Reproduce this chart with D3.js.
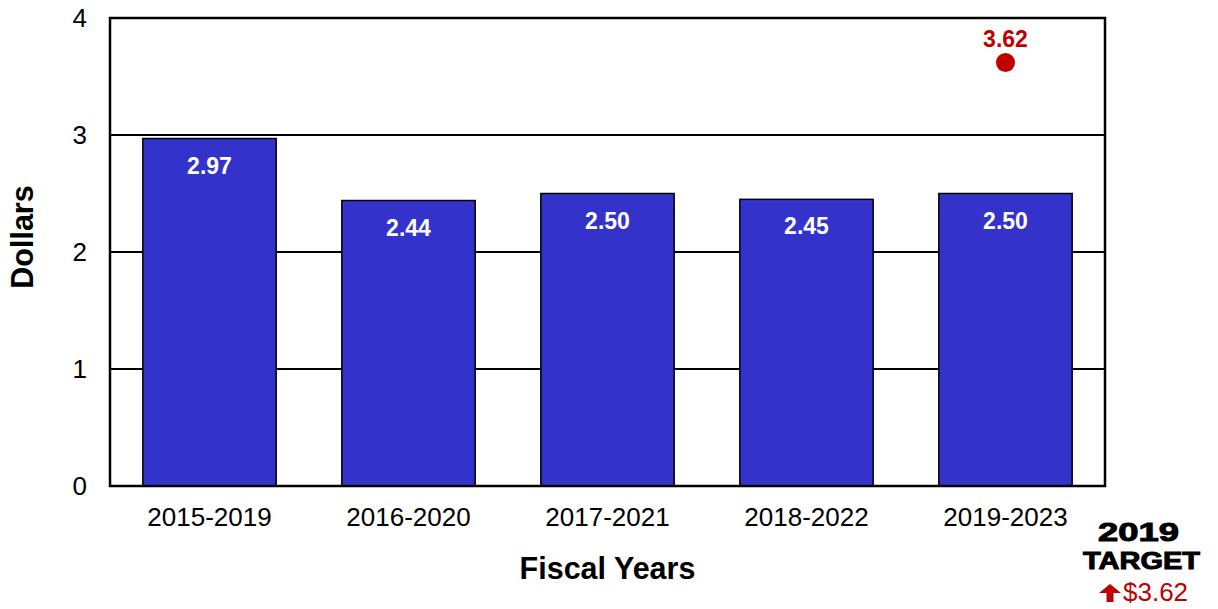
<!DOCTYPE html>
<html>
<head>
<meta charset="utf-8">
<script src="https://cdn.jsdelivr.net/npm/d3@7"></script>
<style>
  html, body { margin: 0; padding: 0; background: #fff; }
  svg { display: block; font-family: Arial, "Liberation Sans", sans-serif; }
</style>
</head>
<body>
<svg id="chart" width="1218" height="609"></svg>
<script>
// Fiscal-year windows and their dollar values
const categories = ["2015-2019", "2016-2020", "2017-2021", "2018-2022", "2019-2023"];
const values = [2.97, 2.44, 2.50, 2.45, 2.50];
const targetCategory = "2019-2023";
const targetValue = 3.62;
const yTicks = [0, 1, 2, 3, 4];

const svg = d3.select("#chart");
const plot = { left: 110, right: 1105, top: 18, bottom: 486 };

const x = d3.scaleBand()
  .domain(categories)
  .range([plot.left, plot.right])
  .paddingInner(0.33)
  .paddingOuter(0.165);

const y = d3.scaleLinear()
  .domain([0, 4])
  .range([plot.bottom, plot.top]);

// Horizontal gridlines
svg.append("g")
  .selectAll("line")
  .data(yTicks)
  .join("line")
  .attr("x1", plot.left)
  .attr("x2", plot.right)
  .attr("y1", d => y(d))
  .attr("y2", d => y(d))
  .attr("stroke", "#000")
  .attr("stroke-width", 2);

// Y axis tick labels
svg.append("g")
  .selectAll("text")
  .data(yTicks)
  .join("text")
  .attr("x", 87)
  .attr("y", d => y(d) + 9)
  .attr("text-anchor", "end")
  .attr("font-size", 26)
  .attr("fill", "#000")
  .text(d => d);

// Bars
svg.append("g")
  .selectAll("rect")
  .data(values)
  .join("rect")
  .attr("x", (d, i) => x(categories[i]))
  .attr("y", d => y(d))
  .attr("width", x.bandwidth())
  .attr("height", d => y(0) - y(d))
  .attr("fill", "#3333CC")
  .attr("stroke", "#000")
  .attr("stroke-width", 1.5);

// Value labels inside the bars
svg.append("g")
  .selectAll("text")
  .data(values)
  .join("text")
  .attr("x", (d, i) => x(categories[i]) + x.bandwidth() / 2)
  .attr("y", d => y(d) + 35)
  .attr("text-anchor", "middle")
  .attr("font-size", 23)
  .attr("font-weight", "bold")
  .attr("fill", "#fff")
  .text(d => d.toFixed(2));

// Plot frame
svg.append("rect")
  .attr("x", plot.left)
  .attr("y", plot.top)
  .attr("width", plot.right - plot.left)
  .attr("height", plot.bottom - plot.top)
  .attr("fill", "none")
  .attr("stroke", "#000")
  .attr("stroke-width", 2.5);

// Target marker
const tx = x(targetCategory) + x.bandwidth() / 2;
svg.append("circle")
  .attr("cx", tx)
  .attr("cy", y(targetValue))
  .attr("r", 9.5)
  .attr("fill", "#C00000");

svg.append("text")
  .attr("x", tx)
  .attr("y", y(targetValue) - 15)
  .attr("text-anchor", "middle")
  .attr("font-size", 23)
  .attr("font-weight", "bold")
  .attr("fill", "#C00000")
  .text(targetValue.toFixed(2));

// X axis category labels
svg.append("g")
  .selectAll("text")
  .data(categories)
  .join("text")
  .attr("x", d => x(d) + x.bandwidth() / 2)
  .attr("y", 526)
  .attr("text-anchor", "middle")
  .attr("font-size", 26)
  .attr("fill", "#000")
  .text(d => d);

// Axis titles
svg.append("text")
  .attr("x", (plot.left + plot.right) / 2)
  .attr("y", 579)
  .attr("text-anchor", "middle")
  .attr("font-size", 30.5)
  .attr("font-weight", "bold")
  .text("Fiscal Years");

svg.append("text")
  .attr("transform", "translate(33,237) rotate(-90)")
  .attr("text-anchor", "middle")
  .attr("font-size", 30.5)
  .attr("font-weight", "bold")
  .text("Dollars");

// Target note in the corner (heavy, widened lettering)
const note = svg.append("g");
note.append("text")
  .attr("x", 1098)
  .attr("y", 541)
  .attr("font-size", 26.5)
  .attr("font-weight", "bold")
  .attr("stroke", "#000")
  .attr("stroke-width", 1)
  .attr("textLength", 81)
  .attr("lengthAdjust", "spacingAndGlyphs")
  .text("2019");
note.append("text")
  .attr("x", 1083)
  .attr("y", 569)
  .attr("font-size", 24.5)
  .attr("font-weight", "bold")
  .attr("stroke", "#000")
  .attr("stroke-width", 1)
  .attr("textLength", 117)
  .attr("lengthAdjust", "spacingAndGlyphs")
  .text("TARGET");
note.append("path")
  .attr("d", "M1110,584 L1121,593 L1113.5,593 L1113.5,602 L1106.5,602 L1106.5,593 L1099,593 Z")
  .attr("fill", "#C00000");
note.append("text")
  .attr("x", 1123)
  .attr("y", 601)
  .attr("font-size", 26)
  .attr("fill", "#C00000")
  .text("$" + targetValue.toFixed(2));
</script>
</body>
</html>
